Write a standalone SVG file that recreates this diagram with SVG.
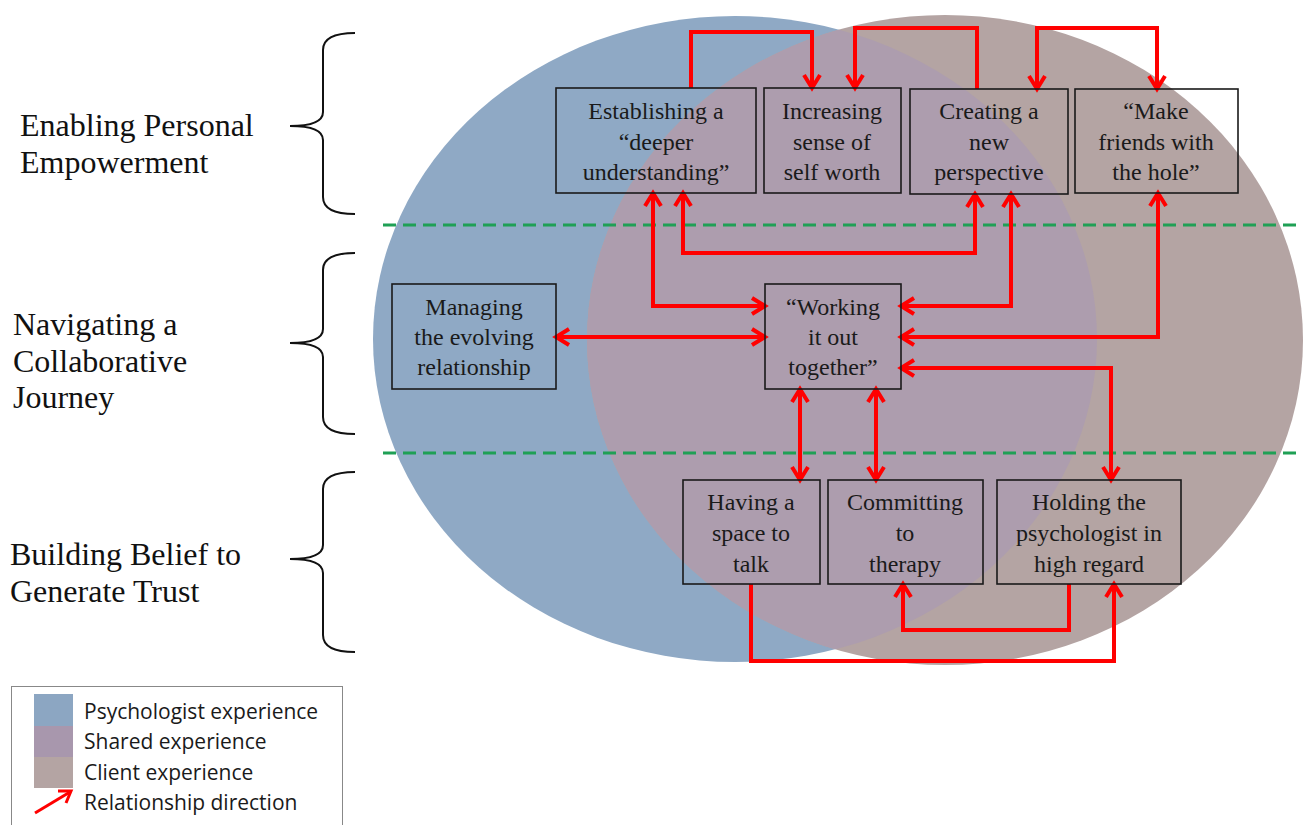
<svg xmlns="http://www.w3.org/2000/svg" width="1303" height="825" viewBox="0 0 1303 825">
<style>
.box{fill:none;stroke:#1a1a1a;stroke-width:1.6}
.bt{font-family:"Liberation Serif","Times New Roman",serif;font-size:24px;fill:#1a1a1a;text-anchor:middle}
.lab{font-family:"Liberation Serif","Times New Roman",serif;font-size:32px;fill:#111}
.leg{font-family:"Open Sans","Liberation Sans",sans-serif;font-size:21px;fill:#1a1a1a}
.con{fill:none;stroke:#ff0000;stroke-width:4;stroke-linejoin:miter}
.bi{marker-start:url(#ah);marker-end:url(#ah)}
.uni{marker-end:url(#ah)}
.brace{fill:none;stroke:#111;stroke-width:2}
.dash{stroke:#1fa055;stroke-width:3;stroke-dasharray:13 7}
</style>
<defs>
<marker id="ah" viewBox="0 0 16 18" refX="14" refY="9" markerWidth="16" markerHeight="18" markerUnits="userSpaceOnUse" orient="auto-start-reverse" overflow="visible">
<path d="M1,1 L14,9 L1,17" fill="none" stroke="#ff0000" stroke-width="4"/>
</marker>
<clipPath id="blueClip"><ellipse cx="735" cy="339" rx="362" ry="323"/></clipPath>
</defs>
<rect width="1303" height="825" fill="#ffffff"/>
<g id="venn">
<ellipse cx="735" cy="339" rx="362" ry="323" fill="#8fa9c5"/>
<ellipse cx="945" cy="340" rx="358" ry="325" fill="#b4a4a3"/>
<ellipse cx="945" cy="340" rx="358" ry="325" fill="#ad9dae" clip-path="url(#blueClip)"/>
</g>
<g id="dividers">
<line class="dash" x1="383" y1="225" x2="1296" y2="225"/>
<line class="dash" x1="383" y1="453" x2="1296" y2="453"/>
</g>
<g id="braces">
<path class="brace" d="M355,33 Q323,33 323,50 L323,112 Q323,126 290,126 Q323,126 323,140 L323,197 Q323,214 355,214"/>
<path class="brace" d="M355,253 Q323,253 323,270 L323,329 Q323,343 290,343 Q323,343 323,357 L323,417 Q323,434 355,434"/>
<path class="brace" d="M355,472 Q323,472 323,489 L323,545 Q323,559 290,559 Q323,559 323,573 L323,635 Q323,652 355,652"/>
</g>
<g id="labels">
<text class="lab" x="20" y="136">Enabling Personal</text>
<text class="lab" x="20" y="173">Empowerment</text>
<text class="lab" x="13" y="335">Navigating a</text>
<text class="lab" x="13" y="372">Collaborative</text>
<text class="lab" x="13" y="408">Journey</text>
<text class="lab" x="10" y="565">Building Belief to</text>
<text class="lab" x="10" y="602">Generate Trust</text>
</g>
<g id="connectors">
<path class="con uni" d="M691,88 V32 H812 V88"/>
<path class="con uni" d="M977,89 V28 H855 V88"/>
<path class="con bi" d="M1037,89 V28 H1157 V89"/>
<path class="con bi" d="M683,193 V253 H975 V194"/>
<path class="con bi" d="M653,193 V306 H765"/>
<path class="con bi" d="M556,337 H765"/>
<path class="con bi" d="M1011,194 V306 H901"/>
<path class="con bi" d="M1158,193 V337 H901"/>
<path class="con bi" d="M901,368 H1111 V480"/>
<path class="con bi" d="M800,389 V480"/>
<path class="con bi" d="M876,389 V480"/>
<path class="con uni" d="M1069,584 V630 H903 V584"/>
<path class="con uni" d="M751,584 V661 H1114 V584"/>
</g>
<g id="n-establishing">
<rect class="box" x="556" y="88" width="200" height="105"/>
<text class="bt" x="656" y="119">Establishing a</text>
<text class="bt" x="656" y="150">“deeper</text>
<text class="bt" x="656" y="180">understanding”</text>
</g>
<g id="n-increasing">
<rect class="box" x="764" y="88" width="137" height="105"/>
<text class="bt" x="832" y="119">Increasing</text>
<text class="bt" x="832" y="150">sense of</text>
<text class="bt" x="832" y="180">self worth</text>
</g>
<g id="n-creating">
<rect class="box" x="910" y="89" width="158" height="105"/>
<text class="bt" x="989" y="119">Creating a</text>
<text class="bt" x="989" y="150">new</text>
<text class="bt" x="989" y="180">perspective</text>
</g>
<g id="n-friends">
<rect class="box" x="1075" y="89" width="163" height="104"/>
<text class="bt" x="1156" y="119">“Make</text>
<text class="bt" x="1156" y="150">friends with</text>
<text class="bt" x="1156" y="180">the hole”</text>
</g>
<g id="n-managing">
<rect class="box" x="392" y="284" width="164" height="105"/>
<text class="bt" x="474" y="315">Managing</text>
<text class="bt" x="474" y="345">the evolving</text>
<text class="bt" x="474" y="375">relationship</text>
</g>
<g id="n-working">
<rect class="box" x="765" y="284" width="136" height="105"/>
<text class="bt" x="833" y="315">“Working</text>
<text class="bt" x="833" y="345">it out</text>
<text class="bt" x="833" y="375">together”</text>
</g>
<g id="n-having">
<rect class="box" x="683" y="480" width="137" height="104"/>
<text class="bt" x="751" y="510">Having a</text>
<text class="bt" x="751" y="541">space to</text>
<text class="bt" x="751" y="572">talk</text>
</g>
<g id="n-committing">
<rect class="box" x="828" y="480" width="155" height="104"/>
<text class="bt" x="905" y="510">Committing</text>
<text class="bt" x="905" y="541">to</text>
<text class="bt" x="905" y="572">therapy</text>
</g>
<g id="n-holding">
<rect class="box" x="997" y="480" width="184" height="104"/>
<text class="bt" x="1089" y="510">Holding the</text>
<text class="bt" x="1089" y="541">psychologist in</text>
<text class="bt" x="1089" y="572">high regard</text>
</g>
<g id="legend">
<rect x="11.5" y="686.5" width="331" height="150" fill="#ffffff" stroke="#888" stroke-width="1"/>
<rect x="34" y="694" width="39" height="32" fill="#8ca6c2"/>
<rect x="34" y="726" width="39" height="31" fill="#a897ad"/>
<rect x="34" y="757" width="39" height="31" fill="#b4a4a3"/>
<line x1="35" y1="813" x2="70" y2="792" stroke="#ff0000" stroke-width="3"/>
<path d="M58,791 L71,791 L66,803" fill="none" stroke="#ff0000" stroke-width="3"/>
<text class="leg" x="84" y="719">Psychologist experience</text>
<text class="leg" x="84" y="749">Shared experience</text>
<text class="leg" x="84" y="780">Client experience</text>
<text class="leg" x="84" y="810">Relationship direction</text>
</g>
</svg>
